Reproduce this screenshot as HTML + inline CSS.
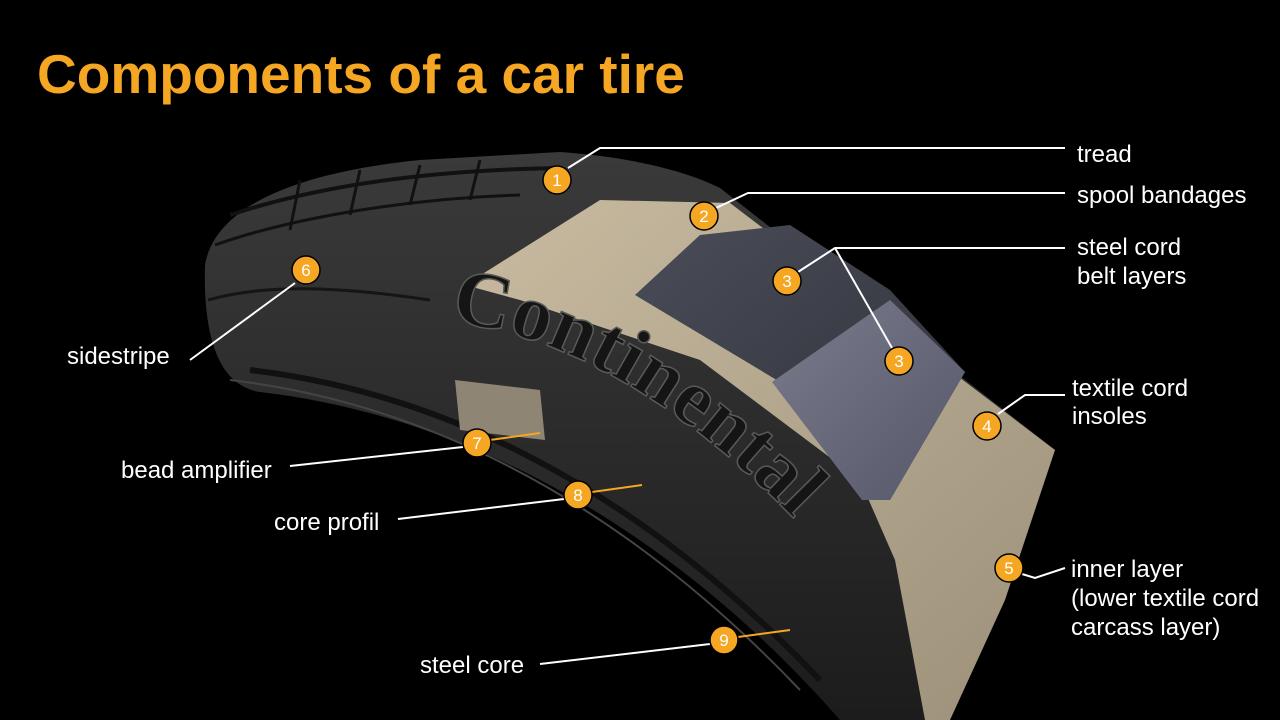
<!DOCTYPE html>
<html><head><meta charset="utf-8"><style>
html,body{margin:0;padding:0;background:#000;}
svg{display:block}
</style></head><body>
<svg width="1280" height="720" viewBox="0 0 1280 720" xmlns="http://www.w3.org/2000/svg">
<defs>
<linearGradient id="tg" x1="0" y1="0" x2="0" y2="1">
<stop offset="0" stop-color="#3a3a3a"/><stop offset="1" stop-color="#1c1c1c"/>
</linearGradient>
<linearGradient id="bg" x1="0" y1="0" x2="1" y2="1">
<stop offset="0" stop-color="#c8bba0"/><stop offset="1" stop-color="#9c907a"/>
</linearGradient>
<linearGradient id="blt" x1="0" y1="0" x2="1" y2="1">
<stop offset="0" stop-color="#4a4d58"/><stop offset="1" stop-color="#2e3038"/>
</linearGradient>
<linearGradient id="blt2" x1="0" y1="0" x2="1" y2="1">
<stop offset="0" stop-color="#7a7c8c"/><stop offset="1" stop-color="#55576a"/>
</linearGradient>
<path id="cp" d="M450,322 C570,335 690,410 800,525"/>
</defs>
<rect width="1280" height="720" fill="#000"/>
<text x="37" y="93" font-family="Liberation Sans, sans-serif" font-weight="bold" font-size="55" fill="#f5a623">Components of a car tire</text>

<path d="M205,265 C215,205 300,172 420,160 L560,152 C620,156 680,168 720,188 L1055,450 L1000,600 L935,720 L840,720 C700,560 500,420 260,392 C220,386 203,340 205,265 Z" fill="url(#tg)"/>
<path d="M230,215 C320,185 430,170 560,168" stroke="#111" stroke-width="4" fill="none"/>
<path d="M215,245 C300,215 420,198 520,195" stroke="#111" stroke-width="3" fill="none"/>
<path d="M300,180 L290,230 M360,170 L350,215 M420,165 L410,205 M480,160 L470,200" stroke="#111" stroke-width="3" fill="none"/>
<path d="M208,300 C260,285 330,285 430,300" stroke="#151515" stroke-width="3" fill="none"/>
<path d="M230,380 C400,400 600,480 800,690" stroke="#444" stroke-width="2" fill="none"/>
<path d="M250,370 C420,390 620,470 820,680" stroke="#111" stroke-width="6" fill="none"/>
<path d="M465,285 L600,200 L730,203 L1055,450 L1005,600 L950,720 L925,720 L895,560 L860,480 L700,360 L520,300 Z" fill="url(#bg)"/>
<path d="M635,295 L700,235 L790,225 L890,290 L965,372 L890,500 L862,500 L780,382 Z" fill="url(#blt)"/>
<path d="M772,382 L890,300 L965,372 L890,500 L862,500 Z" fill="url(#blt2)"/>
<path d="M455,380 L540,390 L545,440 L460,430 Z" fill="#8f8574"/>
<text font-family="Liberation Serif, serif" font-weight="bold" font-size="80" fill="#151515" stroke="#5a5a5a" stroke-width="1.5"><textPath href="#cp">Continental</textPath></text>

<g stroke="#fff" stroke-width="2" fill="none">
<polyline points="568,168 600,148 1065,148"/>
<polyline points="716,208 748,193 1065,193"/>
<polyline points="798,272 835,248 1065,248"/>
<line x1="835" y1="248" x2="892" y2="348"/>
<polyline points="998,414 1025,395 1065,395"/>
<polyline points="1022,574 1035,578 1065,568"/>
<line x1="295" y1="283" x2="190" y2="360"/>
<line x1="463" y1="447" x2="290" y2="466"/>
<line x1="564" y1="499" x2="398" y2="519"/>
<line x1="710" y1="644" x2="540" y2="664"/>
</g>
<g stroke="#f5a623" stroke-width="2">
<line x1="490" y1="440" x2="540" y2="433"/>
<line x1="592" y1="492" x2="642" y2="485"/>
<line x1="738" y1="637" x2="790" y2="630"/>
</g>

<g font-family="Liberation Sans, sans-serif" font-size="17" fill="#fff" text-anchor="middle">
<g><circle cx="557" cy="180" r="14" fill="#f5a623" stroke="#000" stroke-width="1.5"/><text x="557" y="186">1</text></g>
<g><circle cx="704" cy="216" r="14" fill="#f5a623" stroke="#000" stroke-width="1.5"/><text x="704" y="222">2</text></g>
<g><circle cx="787" cy="281" r="14" fill="#f5a623" stroke="#000" stroke-width="1.5"/><text x="787" y="287">3</text></g>
<g><circle cx="899" cy="361" r="14" fill="#f5a623" stroke="#000" stroke-width="1.5"/><text x="899" y="367">3</text></g>
<g><circle cx="987" cy="426" r="14" fill="#f5a623" stroke="#000" stroke-width="1.5"/><text x="987" y="432">4</text></g>
<g><circle cx="1009" cy="568" r="14" fill="#f5a623" stroke="#000" stroke-width="1.5"/><text x="1009" y="574">5</text></g>
<g><circle cx="306" cy="270" r="14" fill="#f5a623" stroke="#000" stroke-width="1.5"/><text x="306" y="276">6</text></g>
<g><circle cx="477" cy="443" r="14" fill="#f5a623" stroke="#000" stroke-width="1.5"/><text x="477" y="449">7</text></g>
<g><circle cx="578" cy="495" r="14" fill="#f5a623" stroke="#000" stroke-width="1.5"/><text x="578" y="501">8</text></g>
<g><circle cx="724" cy="640" r="14" fill="#f5a623" stroke="#000" stroke-width="1.5"/><text x="724" y="646">9</text></g>
</g>

<g font-family="Liberation Sans, sans-serif" font-size="24" fill="#fff">
<text x="1077" y="162">tread</text>
<text x="1077" y="203">spool bandages</text>
<text x="1077" y="255">steel cord</text>
<text x="1077" y="284">belt layers</text>
<text x="1072" y="396">textile cord</text>
<text x="1072" y="424">insoles</text>
<text x="1071" y="577">inner layer</text>
<text x="1071" y="606">(lower textile cord</text>
<text x="1071" y="635">carcass layer)</text>
<text x="67" y="364">sidestripe</text>
<text x="121" y="478">bead amplifier</text>
<text x="274" y="530">core profil</text>
<text x="420" y="673">steel core</text>
</g>
</svg>
</body></html>
